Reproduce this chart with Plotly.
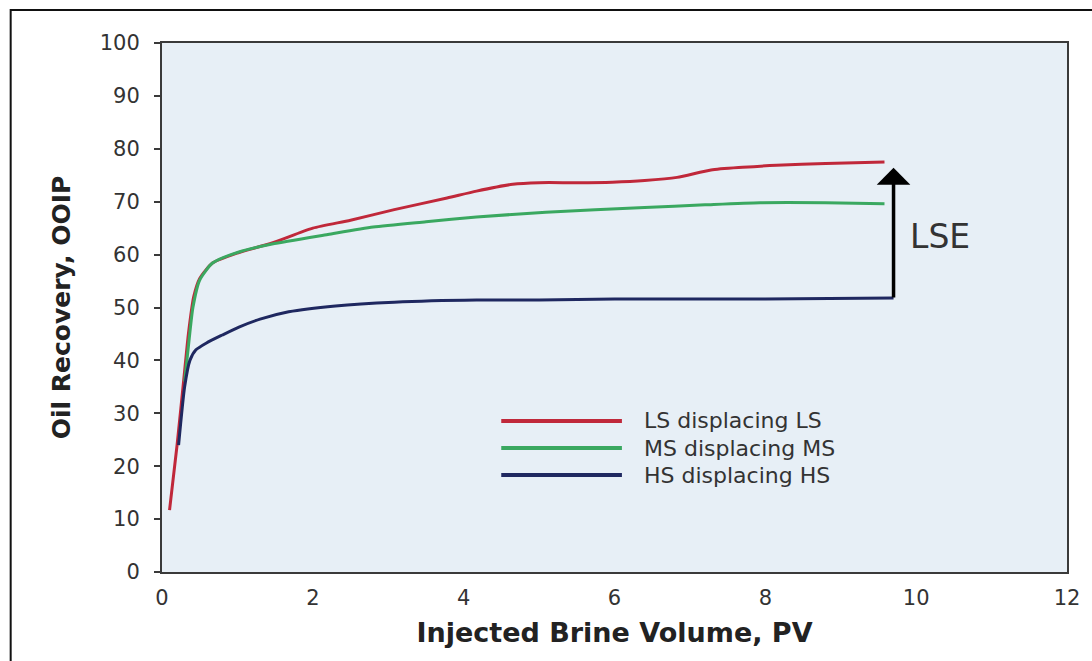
import plotly.graph_objects as go

# ---- data ----
ls_x = [0.10, 0.20, 0.30, 0.35, 0.42, 0.50, 0.67, 1.00, 1.46, 2.00, 2.50, 3.08, 3.78, 4.17, 4.65, 5.00, 5.50, 5.97, 6.40, 6.83, 7.28, 7.70, 8.15, 8.80, 9.58]
ls_y = [11.7, 24.0, 38.0, 45.0, 52.0, 55.5, 58.4, 60.3, 62.2, 65.0, 66.5, 68.5, 70.7, 72.0, 73.3, 73.6, 73.6, 73.7, 74.0, 74.6, 76.0, 76.5, 76.9, 77.2, 77.5]

ms_x = [0.30, 0.36, 0.41, 0.50, 0.67, 1.02, 1.46, 2.20, 2.80, 3.50, 4.17, 5.09, 6.40, 7.20, 7.93, 8.80, 9.58]
ms_y = [36.0, 44.0, 50.0, 55.2, 58.4, 60.5, 62.0, 63.8, 65.2, 66.2, 67.1, 68.0, 68.9, 69.4, 69.8, 69.8, 69.6]

hs_x = [0.22, 0.30, 0.37, 0.45, 0.59, 0.80, 1.02, 1.30, 1.68, 2.30, 3.08, 4.17, 5.00, 6.00, 7.00, 8.00, 9.70]
hs_y = [24.0, 35.0, 40.0, 42.0, 43.3, 44.8, 46.3, 47.8, 49.2, 50.3, 51.0, 51.4, 51.4, 51.6, 51.6, 51.6, 51.8]

series_names = ["LS displacing LS", "MS displacing MS", "HS displacing HS"]
series_colors = ["#c0283a", "#3aa860", "#1f2860"]

x_ticks = [0, 2, 4, 6, 8, 10, 12]
y_ticks = [0, 10, 20, 30, 40, 50, 60, 70, 80, 90, 100]

lse_x = 9.7
lse_y_from = 51.6
lse_y_to = 76.4

FONT = "DejaVu Sans"
TXT = "#333333"

fig = go.Figure()
for xs, ys, nm, col in zip([ls_x, ms_x, hs_x], [ls_y, ms_y, hs_y], series_names, series_colors):
    fig.add_trace(go.Scatter(x=xs, y=ys, mode="lines", name=nm,
                             line=dict(color=col, width=3, shape="spline", smoothing=0.6),
                             showlegend=False))

# margins so that the plot area spans px 162..1077 horizontally, 43..572 vertically
L, R, T, B = 162, 15, 43, 89
W, H = 1092, 661
pw, ph = W - L - R, H - T - B

def px2paper(px, py):
    return (px - L) / pw, (H - B - py) / ph

shapes = []
# outer frame around the figure
x0, y0 = px2paper(9, 10)
x1, y1 = px2paper(1110, 680)
shapes.append(dict(type="rect", xref="paper", yref="paper", x0=x0, y0=y1, x1=x1, y1=y0,
                   line=dict(color="#111111", width=2), fillcolor="rgba(0,0,0,0)", layer="below"))

annotations = []
# custom legend (long line samples as in the reference)
leg_rows_py = [421, 448, 475]
for nm, col, py in zip(series_names, series_colors, leg_rows_py):
    lx0, ly = px2paper(505, py)
    lx1, _ = px2paper(627, py)
    shapes.append(dict(type="line", xref="paper", yref="paper", x0=lx0, x1=lx1, y0=ly, y1=ly,
                       line=dict(color=col, width=4)))
    tx, _ = px2paper(648, py)
    annotations.append(dict(xref="paper", yref="paper", x=tx, y=ly, text=nm, showarrow=False,
                            xanchor="left", yanchor="middle", borderpad=0,
                            font=dict(family=FONT, size=22, color=TXT)))

# LSE arrow
annotations.append(dict(x=lse_x, y=lse_y_to, ax=lse_x, ay=lse_y_from, xref="x", yref="y",
                        axref="x", ayref="y", text="", showarrow=True, arrowhead=1,
                        arrowsize=1.6, arrowwidth=3.5, arrowcolor="#000000"))
annotations.append(dict(x=(916 - L) / 76.25, y=63.5, xref="x", yref="y", text="LSE",
                        showarrow=False, xanchor="left", yanchor="middle",
                        font=dict(family=FONT, size=33, color=TXT)))

fig.update_layout(
    width=W, height=H,
    margin=dict(l=L, r=R, t=T, b=B, pad=0),
    paper_bgcolor="white",
    plot_bgcolor="#e7eff6",
    shapes=shapes,
    annotations=annotations,
    font=dict(family=FONT, color=TXT),
)
fig.update_xaxes(range=[0, 12], tickvals=x_ticks, ticktext=[str(v) for v in x_ticks],
                 showgrid=False, zeroline=False, showline=True, linecolor="#3a3a3a",
                 linewidth=2, mirror=True, ticks="outside", ticklen=3,
                 tickcolor="rgba(0,0,0,0)", ticklabelstandoff=3,
                 tickfont=dict(family=FONT, size=21, color=TXT),
                 title=dict(text="<b>Injected Brine Volume, PV</b>", standoff=14,
                            font=dict(family=FONT, size=27, color="#222222")))
fig.update_yaxes(range=[0, 100], tickvals=y_ticks, ticktext=[str(v) for v in y_ticks],
                 showgrid=False, zeroline=False, showline=True, linecolor="#3a3a3a",
                 linewidth=2, mirror=True, ticks="outside", ticklen=6, tickwidth=2,
                 tickcolor="#3a3a3a", ticklabelstandoff=10,
                 tickfont=dict(family=FONT, size=21, color=TXT),
                 title=dict(text="<b>Oil Recovery, OOIP</b>", standoff=22,
                            font=dict(family=FONT, size=25, color="#222222")))

fig.write_html("out.html", config={"displayModeBar": False},
               post_script="document.body.style.margin='0';document.body.style.overflow='hidden';")
